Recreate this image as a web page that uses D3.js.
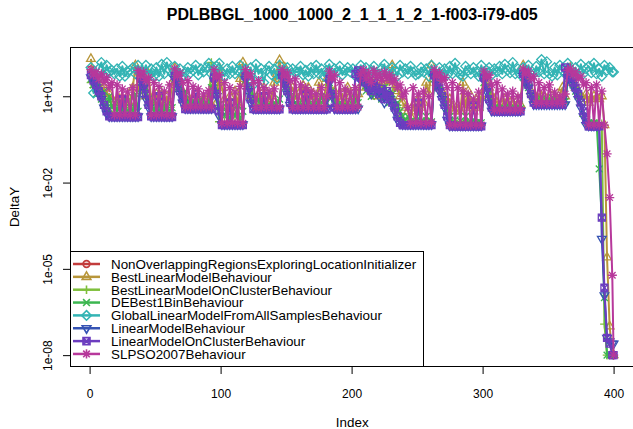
<!DOCTYPE html>
<html>
<head>
<meta charset="utf-8">
<script src="https://cdn.jsdelivr.net/npm/d3@7"></script>
<style>
  body { margin: 0; background: #fff; }
  text { font-family: "Liberation Sans", Arial, Helvetica, sans-serif; fill: #000; }
</style>
</head>
<body>
<svg id="chart" width="633" height="429"></svg>
<script>
// Evaluation index: every second step of the run plus the final one.
const evalIndex = d3.range(1, 400, 2).concat([400]);

const seriesNames = [
  "NonOverlappingRegionsExploringLocationInitializer",
  "BestLinearModelBehaviour",
  "BestLinearModelOnClusterBehaviour",
  "DEBest1BinBehaviour",
  "GlobalLinearModelFromAllSamplesBehaviour",
  "LinearModelBehaviour",
  "LinearModelOnClusterBehaviour",
  "SLPSO2007Behaviour"
];
const seriesColors = ["#c23c3c", "#b8963a", "#7fbf3c", "#3cb650", "#33b4b4", "#3553b3", "#6c3dbf", "#b7389b"];
const seriesShapes = ["circle", "triangleUp", "plus", "cross", "diamond", "triangleDown", "squareCross", "asterisk"];

// DeltaY per series, aligned with evalIndex
const nonOverlapping = [85];

const bestLinear = [
  200, 40, 25, 30, 15, 20, 10, 12, 8, 6,
  5, 8, 4, 6, 10, 5, 20, 120, 15, 30,
  20, 10, 60, 8, 5, 12, 4, 6, 3, 10,
  5, 30, 100, 40, 20, 15, 8, 10, 6, 5,
  12, 6, 5, 8, 4, 10, 5, 30, 6, 100,
  20, 8, 4, 10, 3, 15, 5, 40, 150, 30,
  15, 10, 8, 6, 12, 5, 20, 6, 8, 10,
  30, 60, 180, 40, 100, 25, 15, 20, 10, 8,
  15, 24, 10, 20, 8, 12, 6, 30, 10, 8,
  40, 20, 10, 15, 6, 8, 12, 5, 20, 10,
  8, 6, 12, 50, 30, 20, 40, 15, 25, 10,
  20, 30, 15, 40, 25, 120, 15, 20, 10, 6,
  4, 3, 2, 5, 3, 8, 4, 6, 30, 12,
  120, 60, 30, 20, 15, 10, 6, 8, 4, 3,
  5, 3, 30, 4, 15, 6, 3, 8, 4, 10,
  60, 30, 20, 10, 8, 6, 4, 5, 8, 4,
  6, 5, 4, 8, 5, 120, 40, 30, 15, 10,
  8, 12, 10, 6, 8, 5, 10, 6, 8, 12,
  20, 10, 60, 100, 30, 20, 15, 10, 8, 12,
  6, 8, 10, 9, 8, 10, 1, 2.5e-5, 1e-7, 1e-8,
  1e-8
];

const bestLinearCluster = [
  30, 20, 15, 10, 8, 5, 4, 3, 2.5, 2.4,
  2.4, 2.4, 10, 2.4, 2.4, 8, 2.4, 2.4, 2.4, 40,
  20, 10, 5, 2.4, 2.4, 2.4, 2.4, 15, 2.4, 2.4,
  2.4, 2.4, 50, 30, 15, 6, 4.5, 4.5, 4.5, 4.5,
  4.5, 4.5, 4.5, 4.5, 4.5, 4.5, 150, 40, 10, 1.3,
  1.3, 1.3, 1.3, 1.3, 1.3, 1.3, 1.3, 1.3, 1.3, 50,
  25, 10, 4.3, 4.3, 4.3, 4.3, 4.3, 4.3, 4.3, 4.3,
  4.3, 4.3, 4.3, 60, 30, 12, 5, 4.3, 4.3, 4.3,
  4.3, 4.3, 4.3, 4.3, 4.3, 4.3, 4.3, 4.3, 4.3, 4.3,
  4.3, 40, 15, 4.3, 4.3, 4.3, 4.3, 4.3, 4.3, 4.3,
  4.3, 4.3, 4.3, 45, 50, 25, 40, 20, 30, 15,
  20, 10, 25, 12, 8, 15, 6, 4, 2, 1.3,
  1.3, 1.3, 1.3, 1.3, 1.3, 1.3, 1.3, 1.3, 1.3, 1.3,
  1.3, 50, 35, 20, 12, 6, 3, 1.1, 1.1, 1.1,
  1.1, 1.1, 1.1, 1.1, 1.1, 1.1, 1.1, 1.1, 1.1, 1.1,
  45, 25, 10, 5, 3.5, 3.5, 3.5, 3.5, 3.5, 3.5,
  3.5, 3.5, 3.5, 3.5, 3.5, 60, 40, 20, 10, 6,
  6, 6, 6, 6, 6, 6, 6, 6, 6, 6,
  6, 6, 55, 50, 35, 20, 10, 5, 2, 1.1,
  1.1, 1.1, 1.1, 1.1, 1.1, 1.1, 1.2e-7, 1e-8, 1e-8, 1e-8,
  1e-8
];

const deBest1Bin = [
  40, 25, 12, 30, 8, 15, 5, 10, 4, 6,
  3, 5, 3, 8, 2.5, 4, 3, 12, 3, 30,
  15, 20, 8, 5, 3, 6, 2.5, 4, 3, 5,
  3, 4, 40, 20, 30, 10, 15, 6, 8, 5,
  6, 5, 8, 5, 6, 5, 20, 30, 15, 5,
  3, 2, 4, 1.5, 3, 2, 5, 1.4, 3, 35,
  20, 25, 10, 6, 8, 5, 6, 4.5, 5, 4.5,
  6, 5, 8, 40, 20, 25, 10, 8, 6, 5,
  5, 6, 4.5, 8, 5, 4.5, 6, 5, 10, 5,
  6, 30, 15, 8, 5, 6, 4.5, 5, 6, 4.5,
  5, 8, 6, 30, 40, 15, 25, 10, 20, 12,
  15, 8, 20, 10, 6, 12, 5, 6, 3, 2,
  1.5, 2, 1.3, 1.5, 1.3, 3, 1.4, 1.3, 2, 1.5,
  1.3, 40, 20, 25, 10, 8, 4, 2, 1.2, 1.5,
  1.2, 1.4, 1.2, 2, 1.2, 1.3, 1.5, 1.2, 1.4, 1.2,
  30, 20, 12, 6, 4, 4.5, 3.8, 4, 3.8, 5,
  3.8, 4, 3.8, 4.5, 3.8, 45, 30, 20, 12, 8,
  7, 6.5, 8, 6.5, 7, 6.5, 9, 6.5, 7, 6.5,
  7, 6.5, 40, 35, 25, 15, 10, 6, 3, 1.5,
  1.2, 1.3, 1.2, 1.3, 3e-2, 6e-4, 1e-6, 1e-8, 1e-8, 1e-8,
  1e-8
];

const globalLinear = [
  100, 13, 60, 90, 150, 55, 120, 70, 80, 60,
  90, 50, 110, 50, 70, 80, 100, 60, 120, 70,
  70, 120, 55, 90, 50, 100, 50, 130, 60, 150,
  80, 60, 110, 60, 90, 50, 70, 100, 65, 80,
  120, 55, 90, 70, 100, 140, 60, 80, 110, 140,
  70, 50, 90, 60, 110, 60, 80, 120, 55, 90,
  50, 100, 25, 130, 60, 90, 30, 80, 110, 55,
  90, 40, 120, 50, 80, 100, 50, 90, 70, 70,
  110, 55, 80, 50, 100, 60, 120, 60, 90, 50,
  80, 130, 65, 90, 70, 110, 55, 80, 100, 70,
  90, 50, 70, 120, 60, 100, 50, 80, 110, 55,
  60, 90, 130, 60, 50, 100, 80, 50, 120, 70,
  90, 60, 110, 70, 55, 60, 100, 70, 90, 50,
  120, 60, 60, 100, 50, 90, 55, 110, 60, 140,
  70, 55, 50, 110, 80, 60, 100, 70, 50, 120,
  60, 80, 100, 55, 90, 70, 110, 60, 130, 80,
  65, 150, 60, 90, 55, 100, 70, 120, 60, 60,
  110, 70, 190, 60, 160, 60, 50, 100, 55, 120,
  80, 60, 140, 90, 50, 100, 55, 130, 60, 90,
  110, 65, 140, 60, 90, 50, 120, 80, 100, 70,
  70
];

const linearModel = [
  45, 30, 20, 12, 8, 4, 2.5, 2.0, 2.0, 2.0,
  2.0, 2.0, 2.0, 2.0, 2.0, 2.0, 2.0, 2.0, 2.0, 35,
  20, 8, 4, 2.0, 2.0, 2.0, 2.0, 2.0, 2.0, 2.0,
  2.0, 2.0, 40, 25, 12, 6, 3.8, 3.8, 3.8, 3.8,
  3.8, 3.8, 3.8, 3.8, 3.8, 3.8, 3.8, 35, 10, 2,
  1.05, 1.05, 1.05, 1.05, 1.05, 1.05, 1.05, 1.05, 1.05, 40,
  15, 6, 3.7, 3.7, 3.7, 3.7, 3.7, 3.7, 3.7, 3.7,
  3.7, 3.7, 3.7, 45, 25, 12, 5, 3.7, 3.7, 3.7,
  3.7, 3.7, 3.7, 3.7, 3.7, 3.7, 3.7, 3.7, 3.7, 3.7,
  3.7, 30, 10, 3.7, 3.7, 3.7, 3.7, 3.7, 3.7, 3.7,
  3.7, 3.7, 3.7, 35, 45, 25, 18, 12, 30, 15,
  10, 15, 6, 12, 8, 5, 3, 1.5, 1.1, 1.05,
  1.05, 1.05, 1.05, 1.05, 1.05, 1.05, 1.05, 1.05, 1.05, 1.05,
  1.05, 45, 25, 15, 8, 4, 1.5, 0.95, 0.95, 0.95,
  0.95, 0.95, 0.95, 0.95, 0.95, 0.95, 0.95, 0.95, 0.95, 0.95,
  35, 15, 6, 3.1, 3.1, 3.1, 3.1, 3.1, 3.1, 3.1,
  3.1, 3.1, 3.1, 3.1, 3.1, 50, 30, 20, 10, 5.2,
  5.2, 5.2, 5.2, 5.2, 5.2, 5.2, 5.2, 5.2, 5.2, 5.2,
  5.2, 5.2, 45, 35, 25, 15, 8, 4, 2, 1.0,
  0.95, 0.95, 0.95, 0.95, 0.95, 1.1e-4, 1.2e-6, 4e-8, 3e-8, 2.5e-8,
  2.5e-8
];

const linearModelCluster = [
  55, 35, 25, 15, 10, 5, 3, 2.0, 1.9, 1.9,
  1.9, 1.9, 8, 1.9, 1.9, 1.9, 1.9, 1.9, 1.9, 45,
  25, 12, 5, 2, 1.9, 1.9, 10, 1.9, 1.9, 1.9,
  1.9, 1.9, 50, 30, 15, 8, 3.6, 3.6, 3.6, 3.6,
  12, 3.6, 3.6, 3.6, 3.6, 3.6, 3.6, 45, 12, 3,
  1.0, 1.0, 1.0, 6, 1.0, 1.0, 1.0, 1.0, 1.0, 50,
  20, 8, 3.6, 3.5, 3.5, 3.5, 10, 3.5, 3.5, 3.5,
  3.5, 3.5, 3.5, 55, 30, 15, 6, 3.5, 3.5, 3.5,
  3.5, 3.5, 12, 3.5, 3.5, 3.5, 3.5, 3.5, 3.5, 3.5,
  3.5, 40, 12, 4, 3.5, 3.5, 3.5, 3.5, 3.5, 3.5,
  3.5, 60, 80, 45, 50, 30, 20, 15, 35, 20,
  12, 18, 8, 15, 10, 6, 4, 2, 1.2, 1.0,
  1.0, 1.0, 1.0, 1.0, 1.0, 6, 1.0, 1.0, 1.0, 1.0,
  1.0, 55, 30, 20, 10, 5, 2, 1.0, 0.9, 0.9,
  0.9, 0.9, 0.9, 0.9, 0.9, 0.9, 5, 0.9, 0.9, 0.9,
  45, 20, 8, 4, 3.0, 3.0, 3.0, 2.9, 3.0, 3.0,
  3.0, 3.0, 3.0, 3.0, 3.0, 60, 40, 25, 12, 6,
  5.0, 5.0, 5.0, 5.0, 5.0, 5.0, 5.0, 5.0, 5.0, 5.0,
  5.0, 100, 60, 45, 30, 20, 12, 6, 3, 1.5,
  0.9, 0.9, 0.9, 0.9, 0.9, 6e-4, 2.2e-6, 4e-8, 2.5e-8, 1e-8,
  1e-8
];

const slpso = [
  85, 55, 70, 40, 60, 30, 45, 20, 30, 2.2,
  25, 2.2, 18, 2.3, 14, 2.2, 20, 2.2, 80, 50,
  70, 35, 45, 2.2, 30, 2.2, 22, 2.3, 15, 2.2,
  25, 2.2, 90, 50, 65, 30, 4.2, 35, 4.2, 22,
  4.3, 18, 4.2, 12, 4.2, 16, 4.2, 85, 45, 55,
  1.15, 30, 1.15, 20, 1.2, 14, 1.15, 22, 1.15, 85,
  50, 60, 30, 4.0, 35, 4.0, 20, 4.1, 15, 4.0,
  18, 4.0, 4.1, 85, 50, 65, 35, 4.0, 40, 4.0,
  25, 4.1, 20, 4.0, 15, 4.0, 12, 4.0, 20, 4.0,
  10, 75, 40, 55, 4.0, 30, 4.0, 18, 4.1, 14,
  4.0, 20, 4.2, 60, 85, 40, 65, 30, 80, 45,
  60, 35, 70, 40, 55, 30, 40, 20, 25, 10,
  15, 4, 1.15, 20, 1.2, 12, 1.15, 15, 1.15, 10,
  1.2, 85, 50, 65, 35, 45, 20, 1.0, 30, 1.0,
  20, 1.05, 15, 1.0, 12, 1.0, 8, 1.0, 14, 1.0,
  75, 45, 55, 25, 3.3, 30, 3.3, 18, 3.4, 12,
  3.3, 15, 3.3, 10, 3.3, 90, 60, 75, 40, 50,
  5.7, 30, 5.8, 20, 5.7, 25, 5.7, 14, 5.8, 10,
  5.7, 12, 80, 95, 55, 70, 40, 50, 25, 30,
  1.0, 20, 1.0, 25, 1.0, 15, 1.0, 0.1, 3e-3, 6e-6,
  1e-8
];

const xTicks = [0, 100, 200, 300, 400];
const yTicks = [1e1, 1e-2, 1e-5, 1e-8];

const seriesValues = [nonOverlapping, bestLinear, bestLinearCluster, deBest1Bin,
  globalLinear, linearModel, linearModelCluster, slpso];

const series = seriesNames.map((name, i) => ({
  name,
  color: seriesColors[i],
  shape: seriesShapes[i],
  points: seriesValues[i].map((v, j) => ({ i: evalIndex[j], v }))
}));

// Plot region
const box = { left: 70, right: 634.5, top: 47, bottom: 367 };
const svg = d3.select("#chart");

const n = 400;
const x = d3.scaleLinear()
  .domain([1 - 0.04 * (n - 1), n + 0.04 * (n - 1)])
  .range([box.left, box.right]);

const logExt = d3.extent(seriesValues.flat()).map(Math.log10);
const pad = (logExt[1] - logExt[0]) * 0.04;
const y = d3.scaleLog()
  .domain([Math.pow(10, logExt[0] - pad), Math.pow(10, logExt[1] + pad)])
  .range([box.bottom, box.top]);

// Marker paths
function markerPath(shape) {
  switch (shape) {
    case "circle": { const r = 3.4; return `M${-r},0a${r},${r} 0 1,0 ${2 * r},0a${r},${r} 0 1,0 ${-2 * r},0Z`; }
    case "triangleUp": { const r = 5; return `M0,${-r}L${r * 0.866},${r * 0.5}L${-r * 0.866},${r * 0.5}Z`; }
    case "triangleDown": { const r = 5; return `M0,${r}L${r * 0.866},${-r * 0.5}L${-r * 0.866},${-r * 0.5}Z`; }
    case "plus": { const r = 4.3; return `M${-r},0H${r}M0,${-r}V${r}`; }
    case "cross": { const r = 3.4; return `M${-r},${-r}L${r},${r}M${-r},${r}L${r},${-r}`; }
    case "diamond": { const r = 4.8; return `M0,${-r}L${r},0L0,${r}L${-r},0Z`; }
    case "squareCross": { const r = 3.5; return `M${-r},${-r}H${r}V${r}H${-r}ZM${-r},${-r}L${r},${r}M${-r},${r}L${r},${-r}`; }
    case "asterisk": { const r = 4.6, d = 3.3; return `M${-r},0H${r}M0,${-r}V${r}M${-d},${-d}L${d},${d}M${-d},${d}L${d},${-d}`; }
  }
}

svg.append("defs").append("clipPath").attr("id", "plotClip")
  .append("rect").attr("x", box.left).attr("y", box.top)
  .attr("width", box.right - box.left).attr("height", box.bottom - box.top);

const plotG = svg.append("g").attr("clip-path", "url(#plotClip)");
const line = d3.line().x(d => x(d.i)).y(d => y(d.v));

series.forEach(s => {
  const g = plotG.append("g");
  g.append("path").datum(s.points)
    .attr("d", line).attr("fill", "none")
    .attr("stroke", s.color).attr("stroke-width", 2)
    .attr("stroke-linejoin", "round");
  g.selectAll("path.pt").data(s.points).join("path")
    .attr("class", "pt")
    .attr("transform", d => `translate(${x(d.i)},${y(d.v)})`)
    .attr("d", markerPath(s.shape))
    .attr("fill", "none").attr("stroke", s.color).attr("stroke-width", 1.3);
});

// Frame
svg.append("rect")
  .attr("x", box.left + 0.5).attr("y", box.top + 0.5)
  .attr("width", box.right - box.left).attr("height", box.bottom - box.top - 1)
  .attr("fill", "none").attr("stroke", "#000").attr("stroke-width", 1);

// Axes
const xAxis = svg.append("g").attr("transform", `translate(0,${box.bottom})`)
  .call(d3.axisBottom(x).tickValues(xTicks).tickSize(7).tickFormat(d3.format("d")));
xAxis.select(".domain").remove();
xAxis.selectAll("text").attr("y", 22).attr("dy", "0.71em")
  .style("font-size", "12px").style("font-family", "'Liberation Sans', Arial, sans-serif");

const fmtExp = d => {
  const e = Math.round(Math.log10(d));
  return "1e" + (e < 0 ? "-" : "+") + String(Math.abs(e)).padStart(2, "0");
};
const yAxis = svg.append("g").attr("transform", `translate(${box.left},0)`)
  .call(d3.axisLeft(y).tickValues(yTicks).tickSize(7).tickFormat(fmtExp));
yAxis.select(".domain").remove();
yAxis.selectAll("text")
  .attr("x", 0).attr("y", -18).attr("dy", 0)
  .attr("transform", "rotate(-90)")
  .attr("text-anchor", "middle")
  .style("font-size", "12px").style("font-family", "'Liberation Sans', Arial, sans-serif");
svg.selectAll(".tick line").attr("stroke", "#000");

// Titles
const midX = (box.left + box.right) / 2;
svg.append("text").attr("x", midX).attr("y", 19.5)
  .attr("text-anchor", "middle").style("font-size", "16px").style("font-weight", "bold")
  .text("PDLBBGL_1000_1000_2_1_1_1_2_1-f003-i79-d05");
svg.append("text").attr("x", midX).attr("y", 426.5)
  .attr("text-anchor", "middle").style("font-size", "13.4px").text("Index");
svg.append("text").attr("transform", `translate(19,${(box.top + box.bottom) / 2}) rotate(-90)`)
  .attr("text-anchor", "middle").style("font-size", "13.4px").text("DeltaY");

// Legend
const legend = svg.append("g");
legend.append("rect").attr("x", box.left + 0.5).attr("y", 251.5)
  .attr("width", 353).attr("height", box.bottom - 251.5 - 0.5)
  .attr("fill", "#fff").attr("stroke", "#000").attr("stroke-width", 1);
const rowY = i => 264 + i * 12.85;
series.forEach((s, i) => {
  const ly = rowY(i);
  legend.append("line").attr("x1", 73).attr("x2", 100).attr("y1", ly).attr("y2", ly)
    .attr("stroke", s.color).attr("stroke-width", 2.5);
  legend.append("path").attr("transform", `translate(86.5,${ly})`)
    .attr("d", markerPath(s.shape)).attr("fill", "none")
    .attr("stroke", s.color).attr("stroke-width", 1.6);
  legend.append("text").attr("x", 111).attr("y", ly + 4.8)
    .style("font-size", "13.4px").text(s.name);
});
</script>
</body>
</html>
